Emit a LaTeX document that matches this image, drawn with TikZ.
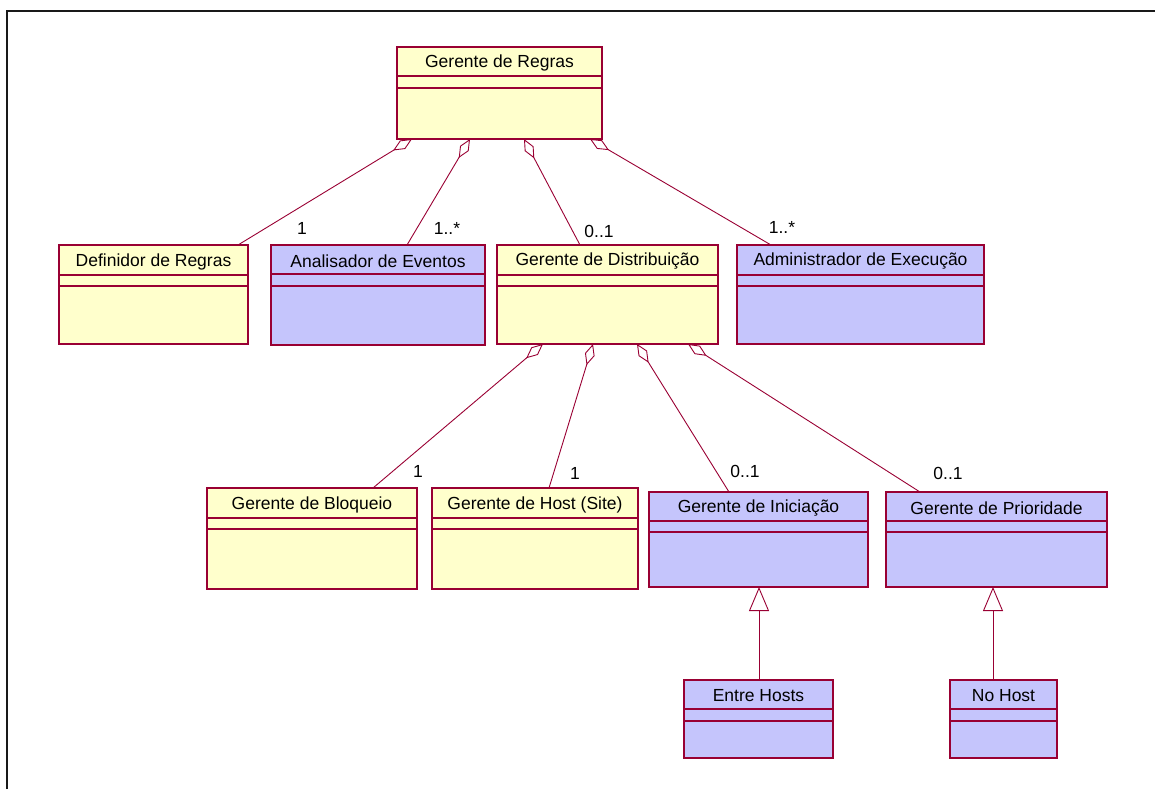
\documentclass[tikz,border=0pt]{standalone}
\usepackage{fontspec}
\setmainfont{Liberation Sans}
\usetikzlibrary{arrows.meta,calc}

\definecolor{roseline}{RGB}{153,0,51}
\definecolor{classyellow}{RGB}{255,255,204}
\definecolor{classblue}{RGB}{197,197,252}

\tikzset{
  umlclass/.style={draw=roseline, line width=1.8pt, anchor=north west,
    inner sep=0pt, outer sep=0pt},
  sepline/.style={draw=roseline, line width=1.2pt},
  classname/.style={font=\fontsize{17.5}{20}\selectfont, inner sep=0pt},
  mult/.style={font=\fontsize{17.5}{20}\selectfont, inner sep=0pt},
  agg/.style={draw=roseline, line width=0.9pt,
    {Diamond[open,length=22pt,width=10pt]}-},
  gen/.style={draw=roseline, line width=0.9pt,
    -{Triangle[open,length=24pt,width=20pt]}},
}

% class box: name, left, top, right, bottom, header height, gap, fill, title
\newcommand\umlbox[9]{%
  \node[umlclass, fill=#8, minimum width={#4pt-#2pt}, minimum height={#5pt-#3pt}]
    (#1) at (#2,#3) {};
  \node[classname] (#1-name) at ($(#1.north)+(0,#6/2+1.5)$) {#9};
  \draw[sepline] ($(#1.north west)+(0,#6)$) -- ($(#1.north east)+(0,#6)$);
  \draw[sepline] ($(#1.north west)+(0,#6+#7)$) -- ($(#1.north east)+(0,#6+#7)$);
}

\begin{document}
\begin{tikzpicture}[x=1pt, y=-1pt]
  \useasboundingbox (0,0) rectangle (1155,789);

  % page frame
  \draw[line width=2pt, black!90] (7,789) -- (7,11) -- (1156,11);

  % classes
  \umlbox{regras}{397}{47}{602}{139}{29}{12}{classyellow}{Gerente de Regras}
  \umlbox{definidor}{59}{245}{248}{344}{30}{11}{classyellow}{Definidor de Regras}
  \umlbox{analisador}{271}{245}{485}{345}{29}{12}{classblue}{Analisador de Eventos}
  \umlbox{distrib}{497}{245}{718}{344}{30}{11}{classyellow}{Gerente de Distribuição}
  \umlbox{admin}{737}{245}{984}{344}{30}{11}{classblue}{Administrador de Execução}
  \umlbox{bloqueio}{207}{488}{417}{589}{30}{11}{classyellow}{Gerente de Bloqueio}
  \umlbox{host}{432}{488}{638}{589}{30}{11}{classyellow}{Gerente de Host (Site)}
  \umlbox{iniciacao}{649}{492}{868}{587}{29}{11}{classblue}{Gerente de Iniciação}
  \umlbox{prioridade}{886}{492}{1107}{587}{29}{11}{classblue}{Gerente de Prioridade}
  \umlbox{entre}{684}{680}{833}{758}{29}{12}{classblue}{Entre Hosts}
  \umlbox{nohost}{950}{680}{1057}{758}{29}{12}{classblue}{No Host}

  % aggregations of Gerente de Regras
  \draw[agg] ($(regras.south west)+(15,0)$) -- ($(definidor.north west)+(179,0)$);
  \draw[agg] ($(regras.south west)+(73,0)$) -- ($(analisador.north west)+(136,0)$);
  \draw[agg] ($(regras.south west)+(127,0)$) -- ($(distrib.north west)+(83,0)$);
  \draw[agg] ($(regras.south west)+(193,0)$) -- ($(admin.north west)+(34,0)$);

  % aggregations of Gerente de Distribuição
  \draw[agg] ($(distrib.south west)+(46,0)$) -- ($(bloqueio.north west)+(166,0)$);
  \draw[agg] ($(distrib.south west)+(96,0)$) -- ($(host.north west)+(117,0)$);
  \draw[agg] ($(distrib.south west)+(140,0)$) -- ($(iniciacao.north west)+(80,0)$);
  \draw[agg] ($(distrib.south west)+(191,0)$) -- ($(prioridade.north west)+(34,0)$);

  % generalizations
  \coordinate (entre-top) at ($(entre.north west)+(75,0)$);
  \coordinate (nohost-top) at ($(nohost.north west)+(43,0)$);
  \draw[gen] (entre-top) -- (entre-top |- iniciacao.south);
  \draw[gen] (nohost-top) -- (nohost-top |- prioridade.south);

  % multiplicities
  \node[mult] (m1) at (302,228) {1};
  \node[mult] (m2) at (447,228) {1..*};
  \node[mult] (m3) at (599,231) {0..1};
  \node[mult] (m4) at (782,227) {1..*};
  \node[mult] (m5) at (418,471) {1};
  \node[mult] (m6) at (575,473) {1};
  \node[mult] (m7) at (745,471) {0..1};
  \node[mult] (m8) at (948,473) {0..1};
\end{tikzpicture}
\end{document}
